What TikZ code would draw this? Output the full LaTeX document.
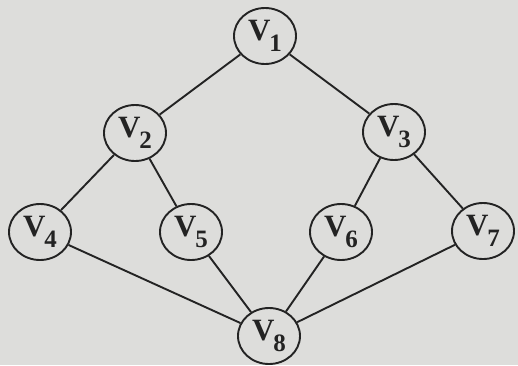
\documentclass[tikz,border=0pt]{standalone}
\usepackage{fontspec}
\setmainfont{Liberation Serif}
\usetikzlibrary{shapes.geometric}
\definecolor{paper}{RGB}{221,221,219}
\definecolor{ink}{RGB}{35,35,35}
\tikzset{
  vert/.style={draw=ink, line width=1.9pt, ellipse, minimum width=62pt, minimum height=56pt, inner sep=0pt, text=ink, font=\fontsize{31}{31}\selectfont\bfseries},
  edge/.style={draw=ink, line width=1.9pt}
}
\newcommand{\vlab}[1]{V\kern-1pt\raisebox{-0.36em}{\fontsize{25}{25}\selectfont\bfseries #1}}
\begin{document}
\begin{tikzpicture}[x=1pt,y=-1pt]
\fill[paper] (0,0) rectangle (518,365);
\useasboundingbox (0,0) rectangle (518,365);
\node[vert] (v1) at (265,36) {\vlab{1}};
\node[vert] (v2) at (135,133) {\vlab{2}};
\node[vert] (v3) at (394,132) {\vlab{3}};
\node[vert] (v4) at (40,232) {\vlab{4}};
\node[vert] (v5) at (191,232) {\vlab{5}};
\node[vert] (v6) at (341,232) {\vlab{6}};
\node[vert] (v7) at (483,231) {\vlab{7}};
\node[vert] (v8) at (269,336) {\vlab{8}};
\draw[edge] (v1) -- (v2);
\draw[edge] (v1) -- (v3);
\draw[edge] (v2) -- (v4);
\draw[edge] (v2) -- (v5);
\draw[edge] (v3) -- (v6);
\draw[edge] (v3) -- (v7);
\draw[edge] (v4) -- (v8);
\draw[edge] (v5) -- (v8);
\draw[edge] (v6) -- (v8);
\draw[edge] (v7) -- (v8);
\end{tikzpicture}
\end{document}
